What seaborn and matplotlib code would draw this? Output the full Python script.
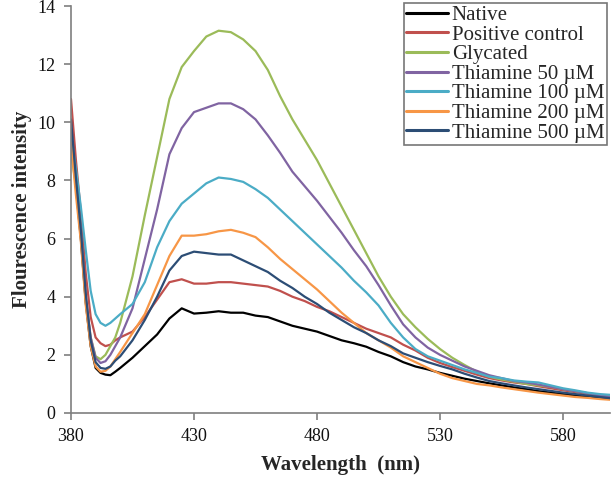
import pandas as pd
import matplotlib
import matplotlib.pyplot as plt
import seaborn as sns

matplotlib.use("Agg")

# Wavelength grid (nm)
wavelength = [380, 382, 384, 386, 388, 390, 392, 394, 396, 398, 400,
              405, 410, 415, 420, 425, 430, 435, 440, 445, 450,
              455, 460, 465, 470, 475, 480, 485, 490, 495, 500,
              505, 510, 515, 520, 525, 530, 535, 540, 545, 550,
              555, 560, 565, 570, 575, 580, 585, 590, 595, 600]

native = [9.8, 7.8, 6.0, 3.8, 2.3, 1.55, 1.38, 1.32, 1.3, 1.42, 1.55,
          1.9, 2.3, 2.7, 3.25, 3.6, 3.42, 3.45, 3.5, 3.45, 3.45,
          3.35, 3.3, 3.15, 3.0, 2.9, 2.8, 2.65, 2.5, 2.4, 2.28,
          2.1, 1.95, 1.75, 1.6, 1.5, 1.38, 1.28, 1.18, 1.1, 1.02,
          0.95, 0.88, 0.82, 0.75, 0.7, 0.65, 0.6, 0.56, 0.52, 0.5]

positive = [10.8, 8.7, 6.9, 4.8, 3.3, 2.6, 2.4, 2.3, 2.35, 2.5, 2.6,
            2.8, 3.3, 3.9, 4.5, 4.6, 4.45, 4.45, 4.5, 4.5, 4.45,
            4.4, 4.35, 4.2, 4.0, 3.85, 3.65, 3.5, 3.3, 3.1, 2.9,
            2.75, 2.6, 2.35, 2.15, 1.9, 1.72, 1.58, 1.45, 1.32, 1.2,
            1.12, 1.05, 1.0, 0.92, 0.85, 0.78, 0.72, 0.66, 0.6, 0.55]

glycated = [9.0, 7.8, 6.2, 3.9, 2.6, 1.95, 1.85, 2.0, 2.3, 2.6, 3.1,
            4.7, 6.8, 8.8, 10.8, 11.9, 12.45, 12.95, 13.15, 13.1, 12.85,
            12.45, 11.8, 10.9, 10.1, 9.4, 8.7, 7.9, 7.1, 6.3, 5.5,
            4.7, 4.0, 3.4, 2.95, 2.55, 2.2, 1.9, 1.65, 1.42, 1.25,
            1.15, 1.08, 1.0, 0.95, 0.9, 0.82, 0.75, 0.68, 0.62, 0.55]

thia50 = [9.5, 7.9, 6.3, 4.0, 2.6, 1.9, 1.72, 1.78, 2.0, 2.3, 2.6,
          3.6, 5.3, 7.0, 8.9, 9.8, 10.35, 10.5, 10.65, 10.65, 10.45,
          10.1, 9.55, 8.95, 8.3, 7.8, 7.3, 6.75, 6.2, 5.6, 5.05,
          4.4, 3.7, 3.05, 2.6, 2.25, 2.0, 1.8, 1.6, 1.45, 1.3,
          1.2, 1.1, 1.05, 0.98, 0.9, 0.82, 0.75, 0.68, 0.6, 0.55]

thia100 = [9.6, 8.4, 7.1, 5.6, 4.2, 3.4, 3.1, 3.0, 3.1, 3.25, 3.4,
           3.75, 4.5, 5.7, 6.6, 7.2, 7.55, 7.9, 8.1, 8.05, 7.95,
           7.7, 7.4, 7.0, 6.6, 6.2, 5.8, 5.4, 5.0, 4.55, 4.15,
           3.7, 3.1, 2.6, 2.2, 1.95, 1.8, 1.65, 1.5, 1.38, 1.25,
           1.2, 1.12, 1.08, 1.05, 0.95, 0.85, 0.78, 0.7, 0.65, 0.62]

thia200 = [9.3, 7.5, 5.9, 3.7, 2.3, 1.6, 1.42, 1.45, 1.6, 1.85, 2.1,
           2.75, 3.4, 4.4, 5.4, 6.1, 6.1, 6.15, 6.25, 6.3, 6.2,
           6.05, 5.7, 5.3, 4.95, 4.6, 4.25, 3.85, 3.45, 3.1, 2.75,
           2.5, 2.25, 1.95, 1.75, 1.55, 1.35, 1.2, 1.1, 1.0, 0.95,
           0.88, 0.82, 0.76, 0.7, 0.65, 0.6, 0.55, 0.52, 0.48, 0.45]

thia500 = [10.1, 8.1, 6.3, 4.1, 2.5, 1.75, 1.55, 1.52, 1.6, 1.8, 1.95,
           2.5, 3.2, 4.0, 4.9, 5.4, 5.55, 5.5, 5.45, 5.45, 5.25,
           5.05, 4.85, 4.55, 4.3, 4.0, 3.75, 3.45, 3.2, 2.95, 2.75,
           2.5, 2.3, 2.05, 1.9, 1.75, 1.62, 1.5, 1.35, 1.22, 1.1,
           1.02, 0.95, 0.88, 0.82, 0.76, 0.7, 0.65, 0.6, 0.55, 0.5]

labels = ["Native", "Positive control", "Glycated", "Thiamine 50 \u00b5M",
          "Thiamine 100 \u00b5M", "Thiamine 200 \u00b5M", "Thiamine 500 \u00b5M"]
colors = ["#000000", "#C0504D", "#9BBB59", "#8064A2",
          "#4BACC6", "#F79646", "#2C4D75"]
series = [native, positive, glycated, thia50, thia100, thia200, thia500]

frames = []
for lab, vals in zip(labels, series):
    frames.append(pd.DataFrame({"Wavelength": wavelength, "Intensity": vals, "Sample": lab}))
df = pd.concat(frames, ignore_index=True)

sns.set_style("white")
plt.rcParams['font.family'] = ['Liberation Serif', 'DejaVu Serif']

fig = plt.figure(figsize=(6.11, 4.88), dpi=100)
ax = fig.add_axes([0.1162, 0.1537, 0.8818, 0.834])

sns.lineplot(data=df, x="Wavelength", y="Intensity", hue="Sample",
             hue_order=labels, palette=dict(zip(labels, colors)),
             linewidth=1.6, ax=ax)

ax.set_xlim(380, 599)
ax.set_ylim(0, 14)
ax.set_xticks([380, 430, 480, 530, 580])
ax.set_yticks(range(0, 15, 2))

for s in ["top", "right"]:
    ax.spines[s].set_visible(False)
for s in ["left", "bottom"]:
    ax.spines[s].set_color("#7f7f7f")
    ax.spines[s].set_linewidth(1.2)
ax.tick_params(axis="both", direction="out", length=5, width=1.2,
               color="#7f7f7f", labelsize=13, labelcolor="#111111", pad=6,
               left=True, bottom=True)

ax.set_xlabel("Wavelength  (nm)", fontsize=15, fontweight="bold", labelpad=7)
ax.set_ylabel("Flourescence intensity", fontsize=15, fontweight="bold", labelpad=4)

leg = ax.legend(loc="upper right", bbox_to_anchor=(607 / 611, 1 - 3 / 488),
                bbox_transform=fig.transFigure, fontsize=15, frameon=True,
                fancybox=False, handlelength=2.0, handletextpad=0.2,
                borderpad=0.12, labelspacing=0.0, borderaxespad=0)
leg.get_frame().set_edgecolor("#555555")
leg.get_frame().set_linewidth(1.2)
for line in leg.get_lines():
    line.set_linewidth(2.2)

fig.savefig("out.png", dpi=100)
